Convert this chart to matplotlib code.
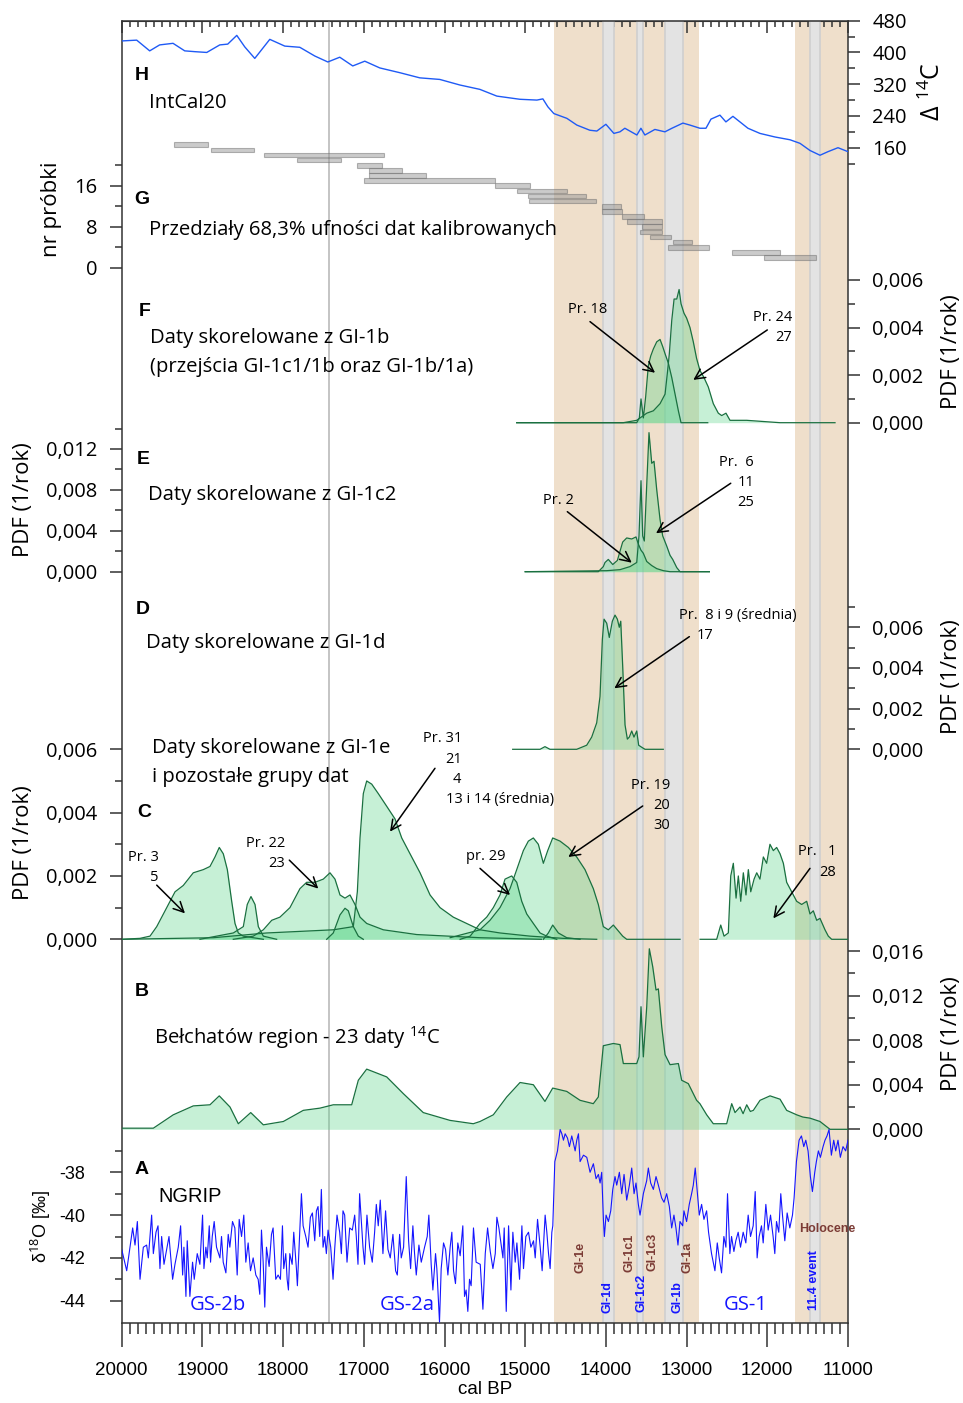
import matplotlib
matplotlib.use("Agg")
import matplotlib.pyplot as plt
from matplotlib.ticker import MultipleLocator, FuncFormatter

plt.rcParams['font.family'] = ['Open Sans', 'DejaVu Sans']
plt.rcParams['mathtext.fontset'] = 'custom'
plt.rcParams['mathtext.rm'] = 'Open Sans'
plt.rcParams['mathtext.it'] = 'Open Sans:italic'
plt.rcParams['mathtext.bf'] = 'Open Sans:bold'

# ---------------- data ----------------
# H: IntCal20 (cal BP, Delta14C)
intcal_yr = [20000, 19814, 19653, 19530, 19364, 19219, 19095, 18946, 18785, 18686, 18574, 18475,
             18351, 18165, 17979, 17793, 17607, 17446, 17298, 17137, 16988, 16802, 16554, 16306,
             16058, 15810, 15562, 15351, 15066, 14855, 14781, 14719, 14645, 14484, 14360, 14199,
             14112, 14000, 13901, 13826, 13765, 13616, 13566, 13517, 13393, 13269, 13182, 13046,
             12959, 12835, 12760, 12698, 12587, 12513, 12426, 12339, 12240, 12091, 11905, 11719,
             11595, 11471, 11347, 11248, 11124, 11000]
intcal_d14c = [429, 431, 404, 419, 423, 404, 402, 400, 419, 421, 443, 414,
               385, 433, 416, 413, 391, 376, 388, 366, 378, 361, 349, 336,
               332, 318, 307, 290, 282, 280, 283, 263, 246, 234, 217, 204,
               202, 219, 196, 200, 209, 192, 209, 192, 206, 200, 209, 222,
               217, 209, 209, 232, 242, 225, 239, 225, 209, 196, 187, 180,
               171, 153, 141, 150, 160, 150]

# G: 68.3% ranges of calibrated dates (sample row, older, younger)
g_row = [24, 23, 22, 21, 20, 19, 18, 17, 16, 15, 14, 13, 12, 11, 10, 9, 8, 7, 6, 5, 4, 3, 2]
g_old = [19352, 18897, 18237, 17824, 17081, 16935, 16935, 16994, 15374, 15105, 14961, 14953,
         14052, 14052, 13797, 13742, 13556, 13577, 13453, 13172, 13234, 12441, 12037]
g_young = [18934, 18361, 16750, 17286, 16771, 16530, 16229, 15374, 14940, 14478, 14250, 14126,
           13813, 13797, 13524, 13308, 13308, 13308, 13193, 12929, 12722, 11842, 11396]

# F: dates correlated with GI-1b
f18_yr = [15105, 13788, 13618, 13586, 13565, 13536, 13507, 13474, 13445, 13412, 13370, 13329,
          13296, 13267, 13226, 13184, 13143, 13102, 13069, 12738]
f18_pdf = [0, 0, 0, 0.0002, 0.001, 0.0002, 0.0011, 0.0024, 0.0028, 0.0031, 0.0034, 0.0035,
           0.0032, 0.0029, 0.0025, 0.0019, 0.0012, 0.0005, 0, 0]
f24_yr = [15105, 13785, 13618, 13494, 13412, 13329, 13267, 13238, 13214, 13184, 13155, 13122,
          13093, 13069, 13032, 13000, 12958, 12917, 12876, 12835, 12785, 12731, 12669, 12607,
          12565, 12512, 12462, 12255, 12049, 11842, 11161]
f24_pdf = [0, 0, 0.0001, 0.0004, 0.0005, 0.0008, 0.0012, 0.0021, 0.0029, 0.0043, 0.0052, 0.0052,
           0.0056, 0.005, 0.0046, 0.0044, 0.004, 0.0034, 0.0027, 0.0022, 0.0019, 0.0015, 0.0008,
           0.0004, 0.0003, 0.0004, 0.0001, 0.0001, 0.00005, 0, 0]

# E: dates correlated with GI-1c2
e2_yr = [15000, 14094, 14032, 14011, 13970, 13915, 13858, 13792, 13742, 13680, 13627, 13598,
         13565, 13536, 13494, 13432, 13370, 13288, 13205, 12718]
e2_pdf = [0, 0, 0.0005, 0.0009, 0.0012, 0.0007, 0.0011, 0.0029, 0.0033, 0.0032, 0.0034, 0.0027,
          0.0021, 0.0018, 0.001, 0.0006, 0.0003, 0.0001, 0, 0]
e6_yr = [15000, 13990, 13825, 13701, 13618, 13590, 13565, 13544, 13524, 13494, 13466, 13432,
         13404, 13370, 13329, 13296, 13246, 13205, 13172, 13122, 13081, 12718]
e6_pdf = [0, 0.0001, 0.0002, 0.0005, 0.0009, 0.0035, 0.0089, 0.0035, 0.003, 0.0085, 0.0136, 0.0106,
          0.0108, 0.008, 0.0051, 0.0035, 0.0025, 0.0016, 0.0012, 0.0004, 0, 0]

# D: dates correlated with GI-1d
d_yr = [15155, 14816, 14755, 14693, 14362, 14300, 14238, 14176, 14114, 14073, 14044, 14023,
        13990, 13958, 13920, 13887, 13858, 13834, 13816, 13792, 13763, 13734, 13710, 13680,
        13652, 13618, 13594, 13556, 13515, 13289]
d_pdf = [0, 0, 0.00013, 0, 0, 0.0001, 0.0002, 0.0006, 0.0013, 0.0026, 0.0054, 0.0064,
         0.0062, 0.0055, 0.0063, 0.0066, 0.0064, 0.006, 0.0063, 0.0041, 0.0012, 0.0005, 0.0006, 0.0009,
         0.0006, 0.0009, 0.0002, 0.0001, 0, 0]

# C: dates correlated with GI-1e and remaining groups
c3_yr = [20000, 19773, 19649, 19566, 19442, 19339, 19237, 19113, 18989, 18906, 18844, 18791,
         18741, 18691, 18637, 18596, 18555, 18493, 18245]
c3_pdf = [0, 0.00003, 0.0001, 0.0004, 0.001, 0.0015, 0.0017, 0.0021, 0.0022, 0.0023, 0.0026, 0.0029,
          0.0027, 0.0022, 0.0012, 0.0005, 0.0002, 0.0001, 0]
c5_yr = [19030, 18617, 18493, 18444, 18398, 18348, 18307, 18245, 18080]
c5_pdf = [0, 0.0002, 0.0004, 0.0011, 0.00135, 0.0011, 0.0004, 0.0001, 0]
c22_yr = [18617, 18369, 18245, 18141, 18039, 17915, 17791, 17708, 17605, 17502, 17419, 17357,
          17295, 17233, 17171, 17109, 17047, 16964, 16758, 16345, 15560, 14800]
c22_pdf = [0, 0.0001, 0.0003, 0.0006, 0.0007, 0.001, 0.0016, 0.0018, 0.0018, 0.0019, 0.0021, 0.0019,
           0.0014, 0.0013, 0.0014, 0.0011, 0.0007, 0.0005, 0.0003, 0.00015, 0.00005, 0]
c23_yr = [17460, 17378, 17295, 17233, 17192, 17130, 17068, 17006]
c23_pdf = [0, 0.0002, 0.00077, 0.00098, 0.0009, 0.0004, 0.0001, 0]
c31_yr = [20000, 18864, 18203, 17378, 17130, 17080, 17047, 17006, 16964, 16902, 16820, 16716,
          16613, 16530, 16427, 16303, 16179, 16055, 15891, 15643, 15560, 15312, 14940, 14528, 14114]
c31_pdf = [0, 0.00005, 0.0002, 0.0003, 0.0004, 0.0015, 0.0032, 0.0046, 0.005, 0.0049, 0.0046, 0.0042,
           0.0038, 0.0032, 0.0027, 0.0021, 0.0014, 0.001, 0.0007, 0.0004, 0.0003, 0.0002, 0.0001, 0.00003, 0]
c29_yr = [15806, 15682, 15560, 15477, 15395, 15312, 15250, 15167, 15105, 15043, 14981, 14899,
          14816, 14733, 14609]
c29_pdf = [0, 0.0001, 0.0005, 0.0007, 0.001, 0.0014, 0.0019, 0.002, 0.0018, 0.0012, 0.0008, 0.0005,
           0.0002, 0.0001, 0]
c19_yr = [15930, 15560, 15436, 15312, 15188, 15105, 15023, 14961, 14899, 14837, 14775, 14721,
          14659, 14568, 14465, 14362, 14259, 14156, 14094, 14032, 13970, 13908, 13858, 13792,
          13742, 13081]
c19_pdf = [0.00005, 0.0003, 0.0006, 0.001, 0.0016, 0.0022, 0.0028, 0.0031, 0.0032, 0.003, 0.0024, 0.0028,
           0.0032, 0.0031, 0.0029, 0.0026, 0.0022, 0.0016, 0.0011, 0.0004, 0.0003, 0.00045, 0.0003, 0.0001,
           0, 0]
c20_yr = [14775, 14713, 14659, 14589, 14485, 14320]
c20_pdf = [0, 0.0002, 0.00045, 0.0002, 0.00005, 0]
c1_yr = [12832, 12627, 12577, 12536, 12483, 12453, 12421, 12387, 12359, 12329, 12297, 12264,
         12235, 12205, 12164, 12131, 12091, 12049, 12008, 11967, 11925, 11884, 11842, 11801,
         11760, 11698, 11636, 11574, 11512, 11471, 11430, 11388, 11347, 11285, 11244, 11202, 11000]
c1_pdf = [0, 0, 0.00045, 0.0001, 0.0002, 0.002, 0.0024, 0.0013, 0.002, 0.0012, 0.0021, 0.0014,
          0.0022, 0.0015, 0.0019, 0.0021, 0.0019, 0.0026, 0.0024, 0.003, 0.0028, 0.0029, 0.0027, 0.0024,
          0.0018, 0.0015, 0.0012, 0.0011, 0.0012, 0.0008, 0.0009, 0.0006, 0.00066, 0.0003, 0.0001, 0, 0]

# B: summed PDF, Belchatow region
b_yr = [20000, 19608, 19361, 19113, 18906, 18791, 18658, 18555, 18401, 18245, 17997, 17750,
        17543, 17378, 17150, 17068, 16964, 16716, 16510, 16263, 15932, 15643, 15560, 15395,
        15229, 15064, 14899, 14755, 14659, 14485, 14320, 14156, 14094, 14032, 13908, 13825,
        13784, 13618, 13590, 13565, 13536, 13494, 13462, 13420, 13379, 13350, 13308, 13267,
        13205, 13102, 13061, 12979, 12876, 12835, 12751, 12669, 12503, 12441, 12400, 12338,
        12300, 12255, 12210, 12173, 12090, 11966, 11842, 11760, 11636, 11560, 11471, 11347,
        11223, 11000]
b_pdf = [0.0001, 0.0001, 0.0013, 0.0021, 0.0022, 0.003, 0.002, 0.0005, 0.0015, 0.0004, 0.0007, 0.0017,
         0.0019, 0.0022, 0.0022, 0.0044, 0.0054, 0.0047, 0.0032, 0.0015, 0.0008, 0.0005, 0.0007, 0.0013,
         0.0029, 0.0042, 0.004, 0.0025, 0.0037, 0.0034, 0.0026, 0.0023, 0.0029, 0.0075, 0.0077, 0.0076,
         0.0059, 0.0059, 0.0065, 0.011, 0.0065, 0.011, 0.0162, 0.0146, 0.0125, 0.0126, 0.0092, 0.0067,
         0.0058, 0.0059, 0.0044, 0.0041, 0.0026, 0.0023, 0.0013, 0.0005, 0.0005, 0.0023, 0.0015, 0.002,
         0.0014, 0.0022, 0.0016, 0.0017, 0.0026, 0.003, 0.0027, 0.0017, 0.0013, 0.0011, 0.001, 0.0007,
         0, 0]

# A: NGRIP d18O
ngrip_yr = [20000, 19938, 19864, 19835, 19806, 19773, 19732, 19691, 19670, 19629, 19608, 19575,
            19550, 19526, 19505, 19476, 19443, 19414, 19369, 19340, 19299, 19270, 19245, 19229,
            19204, 19188, 19155, 19122, 19101, 19064, 19031, 18998, 18981, 18957, 18940, 18915,
            18899, 18878, 18854, 18825, 18783, 18763, 18742, 18709, 18680, 18660, 18627, 18598,
            18569, 18544, 18515, 18487, 18462, 18433, 18404, 18371, 18338, 18309, 18289, 18268,
            18247, 18227, 18206, 18173, 18144, 18124, 18091, 18062, 18033, 18008, 17992, 17967,
            17950, 17934, 17917, 17888, 17868, 17835, 17823, 17794, 17773, 17752, 17719, 17691,
            17662, 17637, 17608, 17587, 17567, 17546, 17526, 17505, 17484, 17464, 17443, 17410,
            17381, 17361, 17332, 17299, 17278, 17258, 17237, 17208, 17175, 17142, 17113, 17093,
            17072, 17052, 17010, 16990, 16961, 16928, 16895, 16866, 16845, 16821, 16796, 16763,
            16730, 16701, 16672, 16639, 16606, 16585, 16556, 16536, 16507, 16474, 16445, 16420,
            16392, 16371, 16350, 16317, 16288, 16247, 16214, 16194, 16165, 16144, 16111, 16095,
            16062, 16041, 16012, 15987, 15958, 15930, 15909, 15888, 15864, 15835, 15806, 15773,
            15752, 15732, 15711, 15690, 15670, 15641, 15608, 15557, 15524, 15495, 15466, 15433,
            15400, 15371, 15351, 15326, 15301, 15276, 15260, 15235, 15206, 15177, 15153, 15124,
            15103, 15070, 15041, 15021, 14992, 14959, 14930, 14897, 14876, 14847, 14814, 14790,
            14753, 14732, 14711, 14691, 14670, 14658, 14633, 14600, 14567, 14546, 14526, 14505,
            14476, 14452, 14423, 14381, 14361, 14340, 14320, 14278, 14237, 14196, 14155, 14122,
            14093, 14072, 14052, 14031, 14019, 13998, 13969, 13940, 13915, 13887, 13866, 13833,
            13804, 13775, 13742, 13709, 13680, 13651, 13627, 13598, 13577, 13536, 13495, 13474,
            13445, 13412, 13379, 13350, 13309, 13280, 13247, 13214, 13185, 13157, 13132, 13107,
            13082, 13049, 13033, 13000, 12967, 12938, 12917, 12893, 12868, 12843, 12814, 12785,
            12752, 12728, 12691, 12670, 12649, 12620, 12596, 12567, 12538, 12513, 12493, 12464,
            12443, 12414, 12390, 12361, 12332, 12299, 12266, 12237, 12208, 12175, 12150, 12126,
            12101, 12072, 12051, 12018, 11989, 11960, 11928, 11907, 11886, 11858, 11833, 11812,
            11783, 11754, 11721, 11688, 11668, 11639, 11606, 11577, 11548, 11523, 11495, 11466,
            11441, 11412, 11392, 11367, 11342, 11309, 11285, 11260, 11235, 11206, 11177, 11152,
            11124, 11095, 11062, 11029, 11000]
ngrip_d18o = [-41.6, -42.6, -40.6, -41.4, -40.3, -43.0, -41.5, -41.4, -42.0, -40.0, -41.8, -40.8,
              -40.5, -42.5, -41.0, -42.3, -41.6, -41.0, -43.0, -42.3, -41.5, -40.5, -42.8, -41.5,
              -43.8, -41.2, -43.8, -42.2, -43.0, -41.8, -42.3, -40.0, -42.5, -41.5, -42.0, -40.5,
              -42.2, -41.0, -40.3, -41.5, -42.0, -41.0, -42.2, -42.7, -40.9, -41.5, -40.3, -40.6,
              -42.8, -40.2, -41.0, -40.0, -42.2, -41.3, -42.6, -42.0, -42.8, -43.0, -43.7, -40.7,
              -42.2, -44.3, -41.5, -42.4, -40.9, -40.6, -43.0, -42.8, -43.0, -40.5, -42.5, -41.8,
              -43.0, -43.5, -41.8, -42.3, -40.8, -42.5, -43.3, -40.8, -39.0, -40.5, -41.0, -41.5,
              -40.1, -39.9, -41.2, -39.8, -39.6, -41.0, -38.8, -41.5, -41.0, -41.8, -40.7, -41.5,
              -43.0, -41.6, -40.0, -40.8, -41.8, -39.8, -40.0, -42.2, -40.6, -40.7, -40.0, -41.0,
              -42.3, -39.0, -41.5, -42.3, -40.0, -41.5, -42.2, -40.8, -39.5, -40.5, -39.3, -41.8,
              -39.8, -41.6, -42.0, -40.9, -42.6, -42.8, -40.9, -42.0, -41.5, -38.2, -41.2, -42.5,
              -40.5, -41.8, -42.8, -41.4, -42.2, -41.5, -41.0, -40.0, -42.3, -43.5, -41.8, -42.5,
              -45.0, -42.5, -41.3, -41.6, -42.8, -41.5, -40.8, -42.6, -43.2, -41.3, -41.9, -40.5,
              -43.8, -43.5, -44.5, -43.0, -43.3, -40.6, -42.2, -42.3, -44.4, -41.8, -40.6, -41.7,
              -42.5, -41.8, -40.1, -40.6, -41.3, -42.0, -40.6, -44.5, -40.5, -43.5, -40.8, -42.2,
              -41.3, -43.0, -40.5, -42.5, -41.0, -40.8, -41.5, -41.2, -42.0, -40.2, -41.5, -42.6,
              -40.0, -40.8, -41.8, -42.5, -40.8, -40.5, -37.5, -37.0, -36.0, -36.2, -36.5, -36.2,
              -36.4, -36.8, -36.3, -37.0, -36.5, -36.2, -37.5, -37.2, -37.3, -38.0, -37.6, -38.3,
              -38.1, -38.5, -38.0, -40.2, -41.0, -40.0, -40.3, -39.8, -38.8, -38.2, -38.6, -38.0,
              -39.0, -38.1, -39.3, -38.6, -37.8, -39.0, -38.5, -39.5, -40.0, -39.0, -38.4, -37.8,
              -38.5, -38.8, -38.2, -38.6, -39.2, -39.4, -39.0, -39.6, -40.6, -40.0, -40.6, -41.4,
              -40.3, -40.5, -39.8, -40.3, -39.5, -39.0, -38.6, -37.8, -38.9, -40.0, -39.5, -40.2,
              -39.8, -40.8, -41.8, -42.2, -42.6, -41.3, -42.0, -42.7, -41.0, -41.5, -39.0, -41.8,
              -41.0, -41.7, -41.2, -40.8, -41.5, -40.8, -41.3, -40.0, -41.0, -40.5, -38.9, -42.0,
              -41.0, -40.5, -41.3, -39.5, -40.7, -40.0, -41.0, -41.8, -40.3, -40.8, -39.0, -40.0,
              -41.2, -39.9, -40.6, -40.0, -39.2, -37.5, -36.5, -36.3, -36.8, -36.5, -37.0, -38.2,
              -38.9, -38.0, -37.5, -37.0, -37.3, -36.8, -36.5, -36.3, -36.0, -37.2, -36.5, -37.0,
              -36.5, -37.3, -36.8, -37.0, -36.5]

# interstadial / event bands (cal BP)
tan_bands = [(14645, 12847), (11654, 11000)]
grey_bands = [(14034, 13897), (13613, 13546), (13265, 13046), (11475, 11344)]
marker_line = 17430

# ---------------- layout ----------------
W, H = 963, 1403
XL, XR = 121.7, 848.0      # pixel x of 20000 and 11000
TOP, BOT = 20.7, 1322.7

TAN = '#efdfcb'
BAND = '#e3e3e3'
FILL = '#5cd68a'
LINE = '#1a7040'
BROWN = '#7b3b35'
BLUE = '#1515ff'
TICK = '#333333'


def rect(y_top, y_bot):
    return [XL / W, 1 - y_bot / H, (XR - XL) / W, (y_bot - y_top) / H]


fig = plt.figure(figsize=(W / 100, H / 100), dpi=100)

ax0 = fig.add_axes(rect(TOP, BOT))
ax0.set_xlim(20000, 11000)
ax0.set_ylim(0, 1)
ax0.set_yticks([])
for a, b in tan_bands:
    ax0.axvspan(a, b, color=TAN, lw=0, zorder=0)
for a, b in grey_bands:
    ax0.axvspan(a, b, facecolor=BAND, edgecolor='#cfcfcf', lw=1.2, zorder=1)
ax0.axvline(marker_line, color='#c4c4c4', lw=1.4, zorder=1)
ax0.xaxis.set_major_locator(MultipleLocator(1000))
ax0.xaxis.set_minor_locator(MultipleLocator(100))
ax0.tick_params(axis='x', which='major', direction='out', length=17, width=1.1, color=TICK,
                pad=11, labelsize=13.5, labelfontfamily='Liberation Sans')
ax0.tick_params(axis='x', which='minor', direction='out', length=8, width=1.1, color=TICK)
for s in ax0.spines.values():
    s.set_color(TICK)
    s.set_linewidth(1.1)
ax0.set_xlabel('cal BP', fontsize=13.5, family='Liberation Sans', labelpad=2)

top = ax0.secondary_xaxis('top')
top.xaxis.set_major_locator(MultipleLocator(1000))
top.xaxis.set_minor_locator(MultipleLocator(100))
top.tick_params(axis='x', which='major', direction='in', length=8.6, width=1.1, color=TICK, labeltop=False)
top.tick_params(axis='x', which='minor', direction='in', length=4.3, width=1.1, color=TICK)
top.spines['top'].set_color(TICK)


def panel(p0, v0, p1, v1, vmin, vmax, side, major, minor, fmt=None, lab_font='Open Sans',
          lab_size=14.5, pad=9):
    k = (p1 - p0) / (v1 - v0)
    y_bot = p0 + (vmin - v0) * k
    y_top = p0 + (vmax - v0) * k
    ax = fig.add_axes(rect(y_top, y_bot))
    ax.set_xlim(20000, 11000)
    ax.set_ylim(vmin, vmax)
    ax.patch.set_alpha(0)
    for s in ax.spines.values():
        s.set_visible(False)
    ax.tick_params(axis='x', which='both', bottom=False, top=False, labelbottom=False)
    ax.set_yticks(major)
    ax.set_yticks(minor, minor=True)
    if fmt:
        ax.yaxis.set_major_formatter(FuncFormatter(fmt))
    r = side == 'right'
    ax.tick_params(axis='y', which='both', left=not r, right=r, labelleft=not r, labelright=r,
                   color=TICK, width=1.1, direction='out')
    ax.tick_params(axis='y', which='major', length=8.6, labelsize=lab_size, pad=pad,
                   labelfontfamily=lab_font)
    ax.tick_params(axis='y', which='minor', length=5)
    return ax


def comma(v, p):
    return f'{v:.3f}'.replace('.', ',')


def pdf(ax, yr, val):
    ax.fill_between(yr, val, 0, color=FILL, alpha=0.35, lw=0)
    ax.plot(yr, val, color=LINE, lw=0.9)


def arrow(ax, start, end):
    ax.annotate('', xy=end, xytext=start,
                arrowprops=dict(arrowstyle='->', color='k', lw=1.1, mutation_scale=18,
                                shrinkA=0, shrinkB=0))


def note(ax, x, y, s, ha='right'):
    ax.text(x, y, s, ha=ha, va='center', fontsize=10.5)


# H
axH = panel(20.7, 480, 147.7, 160, 118, 482, 'right', [160, 240, 320, 400, 480], [120, 200, 280, 360, 440])
axH.plot(intcal_yr, intcal_d14c, color='#1f5af5', lw=1.0)

# G
axG = panel(267.7, 0, 185.7, 16, -1, 26, 'left', [0, 8, 16], [4, 12, 20])
axG.barh(g_row, [o - y for o, y in zip(g_old, g_young)], left=g_young, height=0.9,
         color='#999999', alpha=0.5, edgecolor='#6f6f6f', lw=0.8)

# F
axF = panel(422.7, 0, 280, 0.006, -0.0002, 0.0062, 'right', [0, 0.002, 0.004, 0.006],
            [0.001, 0.003, 0.005], comma)
pdf(axF, f18_yr, f18_pdf)
pdf(axF, f24_yr, f24_pdf)
note(axF, 14222, 0.00474, 'Pr. 18', ha='center')
arrow(axF, (14197, 0.00425), (13391, 0.0021))
note(axF, 11694, 0.00442, 'Pr. 24')
note(axF, 11694, 0.00358, '27')
arrow(axF, (12000, 0.0039), (12917, 0.0018))

# E
axE = panel(571.7, 0, 449, 0.012, -0.0003, 0.0145, 'left', [0, 0.004, 0.008, 0.012],
            [0.002, 0.006, 0.010, 0.014], comma)
pdf(axE, e2_yr, e2_pdf)
pdf(axE, e6_yr, e6_pdf)
note(axE, 14582, 0.00694, 'Pr. 2', ha='center')
arrow(axE, (14478, 0.00587), (13680, 0.00088))
note(axE, 12165, 0.0107, 'Pr.  6')
note(axE, 12165, 0.00874, '11')
note(axE, 12165, 0.00679, '25')
arrow(axE, (12453, 0.00865), (13379, 0.00376))

# D
axD = panel(749.3, 0, 627.3, 0.006, -0.0002, 0.0072, 'right', [0, 0.002, 0.004, 0.006],
            [0.001, 0.003, 0.005, 0.007], comma)
pdf(axD, d_yr, d_pdf)
note(axD, 13094, 0.00657, 'Pr.  8 i 9 (średnia)', ha='left')
note(axD, 12672, 0.00559, '17')
arrow(axD, (12966, 0.00554), (13896, 0.0030))

# C
axC = panel(939.3, 0, 749.3, 0.006, -0.0002, 0.0062, 'left', [0, 0.002, 0.004, 0.006],
            [0.001, 0.003, 0.005], comma)
for yr, val in [(c3_yr, c3_pdf), (c5_yr, c5_pdf), (c22_yr, c22_pdf), (c23_yr, c23_pdf),
                (c31_yr, c31_pdf), (c29_yr, c29_pdf), (c19_yr, c19_pdf), (c20_yr, c20_pdf),
                (c1_yr, c1_pdf)]:
    pdf(axC, yr, val)
note(axC, 15783, 0.00635, 'Pr. 31')
note(axC, 15783, 0.00568, '21')
note(axC, 15795, 0.00505, '4')
note(axC, 15981, 0.0044, '13 i 14 (średnia)', ha='left')
arrow(axC, (16118, 0.0054), (16675, 0.0034))
note(axC, 17976, 0.00303, 'Pr. 22')
note(axC, 17976, 0.0024, '23')
arrow(axC, (17923, 0.0025), (17564, 0.0016))
note(axC, 19538, 0.00259, 'Pr. 3')
note(axC, 19538, 0.00196, '5')
arrow(axC, (19566, 0.00171), (19216, 0.00082))
note(axC, 15492, 0.0026, 'pr. 29', ha='center')
arrow(axC, (15560, 0.00224), (15188, 0.0014))
note(axC, 13206, 0.00487, 'Pr. 19')
note(axC, 13206, 0.00422, '20')
note(axC, 13206, 0.00359, '30')
arrow(axC, (13544, 0.00421), (14466, 0.0026))
note(axC, 11149, 0.00277, 'Pr.   1')
note(axC, 11149, 0.00212, '28')
arrow(axC, (11471, 0.00224), (11925, 0.00066))

# B
axB = panel(1129.3, 0, 951, 0.016, -0.0003, 0.0166, 'right', [0, 0.004, 0.008, 0.012, 0.016],
            [0.002, 0.006, 0.010, 0.014], comma)
pdf(axB, b_yr, b_pdf)

# A
axA = panel(1172.3, -38, 1300.7, -44, -45.03, -35.8, 'left', [-44, -42, -40, -38],
            [-43, -41, -39, -37], lambda v, p: f'{v:.0f}', lab_font='Liberation Sans',
            lab_size=13, pad=18)
axA.plot(ngrip_yr, ngrip_d18o, color=BLUE, lw=0.8)


# ---------------- text ----------------
def ftext(x, y, s, **kw):
    kw.setdefault('va', 'center')
    kw.setdefault('ha', 'left')
    return fig.text(x / W, 1 - y / H, s, **kw)


big = dict(fontsize=14, family='Liberation Sans', weight='bold')
for x, y, s in [(135, 76, 'H'), (134, 200, 'G'), (139, 312, 'F'), (137, 460, 'E'),
                (136, 610, 'D'), (137, 812, 'C'), (135, 992, 'B'), (135, 1170, 'A')]:
    ftext(x, y, s, **big)

body = dict(fontsize=14.6)
ftext(149, 103, 'IntCal20', **body)
ftext(149, 230, 'Przedziały 68,3% ufności dat kalibrowanych', **body)
ftext(150, 338, 'Daty skorelowane z GI-1b', **body)
ftext(150, 367, '(przejścia GI-1c1/1b oraz GI-1b/1a)', **body)
ftext(148, 495, 'Daty skorelowane z GI-1c2', **body)
ftext(146, 643, 'Daty skorelowane z GI-1d', **body)
ftext(152, 748, 'Daty skorelowane z GI-1e', **body)
ftext(152, 777, 'i pozostałe grupy dat', **body)
ftext(154, 1038, 'Bełchatów region - 23 daty $^{14}$C', **body)
ftext(158, 1197, 'NGRIP', fontsize=14.4, family='Liberation Sans')
ftext(190, 1305, 'GS-2b', fontsize=14.6, color=BLUE)
ftext(380, 1305, 'GS-2a', fontsize=14.6, color=BLUE)
ftext(724, 1305, 'GS-1', fontsize=14.6, color=BLUE)

small = dict(fontsize=9, family='Liberation Sans', weight='bold', rotation=90, ha='center')
for x, y, s, c in [(580, 1257, 'GI-1e', BROWN), (607.7, 1297, 'GI-1d', BLUE),
                   (629, 1253, 'GI-1c1', BROWN), (641, 1293, 'GI-1c2', BLUE),
                   (652.7, 1252, 'GI-1c3', BROWN), (677, 1297, 'GI-1b', BLUE),
                   (687.3, 1257, 'GI-1a', BROWN), (814, 1280, '11.4 event', BLUE)]:
    ftext(x, y, s, color=c, **small)
ftext(827, 1229, 'Holocene', fontsize=9, family='Liberation Sans', weight='bold', color=BROWN, ha='center')

lab = dict(fontsize=16, rotation=90, ha='center')
ftext(52, 209, 'nr próbki', **lab)
ftext(24, 500, 'PDF (1/rok)', **lab)
ftext(24, 843, 'PDF (1/rok)', **lab)
ftext(951, 352, 'PDF (1/rok)', **lab)
ftext(951, 677, 'PDF (1/rok)', **lab)
ftext(951, 1034, 'PDF (1/rok)', **lab)
ftext(933, 92, r'$\Delta$ $^{14}$C', fontsize=18, rotation=90, ha='center')
ftext(41, 1227, 'δ$^{18}$O [‰]', fontsize=13, family='Liberation Sans', rotation=90, ha='center')

fig.savefig('out.png', dpi=100)
